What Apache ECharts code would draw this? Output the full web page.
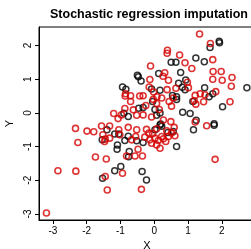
<!DOCTYPE html>
<html lang="en">
<head>
    <meta charset="UTF-8">
    <title>Stochastic regression imputation</title>
    <script src="https://cdn.jsdelivr.net/npm/echarts/dist/echarts.min.js"></script>
    <style>
        html, body { margin: 0; padding: 0; background: #fff; }
    </style>
</head>
<body>
    <div id="chart" style="width: 251px; height: 249px;"></div>

    <script>
        // observed cases (black)
        var observedX = [1.65, 1.92, 1.93, 1.23, 1.48, 0.50, 0.64, 0.78, -0.50, -0.47,
            -0.39, 0.13, 0.93, 0.91, 1.49, 2.74, 1.73, 1.62, 1.14, 2.02,
            0.84, 1.06, 1.24, 1.77, -0.94, -0.84, -0.08, 0.17, 0.54, 0.66,
            0.66, -0.05, -0.33, -0.46, 0.02, 0.07, 0.17, -0.77, 0.72, 0.83,
            -1.40, -1.54, -1.10, -1.09, -0.87, -0.74, -0.76, -0.99, -1.17, -1.53,
            -0.36, -0.23, 0.66, 1.16, 1.77, 0.22, 0.17, 0.40, -0.33, -0.52,
            -1.17, -1.05, -0.77, -0.90, 0.02, 0.56, 0.19];
        var observedY = [1.94, 2.13, 2.08, 1.63, 1.52, 1.50, 1.50, 1.20, 1.12, 1.07,
            0.95, 1.17, 0.98, 0.69, 0.75, 0.75, 0.57, 0.48, 0.34, 0.18,
            0.02, -0.02, -0.22, -0.32, 0.77, 0.70, 0.71, 0.67, 0.52, 0.48,
            0.40, 0.34, 0.16, 0.14, 0.10, -0.07, 0.00, -0.11, 0.88, 0.76,
            -0.50, -0.80, -1.08, -0.95, -0.82, -1.15, -1.30, -1.59, -1.72, -1.94,
            -1.74, -1.99, -1.00, -0.50, -0.37, -0.40, -0.36, -0.58, -0.88, -0.83,
            -0.63, -0.63, -0.69, -0.01, -0.50, -0.55, -0.33];

        // imputed cases (red)
        var imputedX = [1.34, 1.66, 0.39, 0.38, 0.75, 1.73, 0.91, 1.11, -0.11, 1.74,
            1.98, 2.30, 1.73, 2.01, 0.98, 1.01, 2.28, 1.82, 1.50, 1.36,
            1.21, 1.18, 1.23, 1.46, 2.24, 1.21, 1.55, 0.31, 0.26, 0.42,
            -0.13, -0.85, -0.86, -0.43, -0.33, -0.70, -0.15, -0.02, 0.08, 0.38,
            0.56, 0.51, -0.03, 0.22, 0.07, -0.25, 0.15, -0.87, -0.70, -1.20,
            -1.07, -0.52, -0.33, -0.08, -0.97, -0.62, -1.56, -1.32, 0.64, 0.44,
            -2.33, -1.99, -1.79, -2.26, -1.52, -1.47, -1.45, -1.32, -1.74, -1.42,
            -2.85, -2.32, -1.45, -1.39, -3.19, -1.02, -0.82, -0.48, -0.57, -0.35,
            -0.94, -0.38, 0.17, 0.59, 0.61, 0.22, 0.02, -0.13, -0.28, -0.05,
            -0.55, 0.12, 0.34, 0.51, -0.23, -0.77, 1.80, -1.05, -0.52, 0.07,
            0.37, -0.67, -0.16, 0.27, 0.42, 0.07, -0.08, 0.27, 0.49];
        var imputedY = [2.34, 2.06, 1.86, 1.77, 1.72, 1.58, 1.49, 1.32, 1.39, 1.23,
            1.23, 1.05, 1.00, 0.97, 0.91, 0.75, 0.79, 0.63, 0.54, 0.57,
            0.52, 0.36, 0.26, 0.33, 0.33, -0.27, -0.38, 1.19, 1.09, 0.97,
            0.99, 0.57, 0.50, 0.50, 0.51, 0.51, 0.77, 0.62, 0.48, 0.69,
            0.44, 0.20, 0.40, 0.44, 0.28, 0.22, 0.10, 0.13, 0.34, -0.02,
            -0.17, -0.07, -0.06, -0.12, -0.06, 0.09, -0.39, -0.39, 0.73, 0.34,
            -0.46, -0.54, -0.56, -0.88, -0.65, -0.85, -0.78, -0.75, -1.31, -1.37,
            -1.72, -1.73, -1.89, -2.29, -2.97, -0.65, -1.28, -1.08, -1.28, -1.28,
            -1.79, -2.27, -1.05, -0.43, -0.68, -0.70, -0.75, -0.80, -0.72, -0.62,
            -0.70, -0.82, -0.85, -0.60, -0.49, -0.43, -1.38, -0.50, -0.50, -0.47,
            -0.53, -0.80, -0.60, -0.77, -0.70, -0.95, -0.90, -0.21, -0.26];

        var xTicks = [-3, -2, -1, 0, 1, 2];
        var yTicks = [-3, -2, -1, 0, 1, 2];

        function pairs(xs, ys) {
            return xs.map(function (x, i) { return [x, ys[i]]; });
        }

        var chart = echarts.init(document.getElementById('chart'));
        var font = 'Liberation Sans';

        var options = {
            animation: false,
            title: {
                text: 'Stochastic regression imputation',
                left: 45,
                top: 3,
                textStyle: { fontFamily: font, fontWeight: 'bold', fontSize: 12.5, color: '#000' }
            },
            grid: {
                left: 39, right: -4, top: 27, bottom: 29,
                outerBoundsMode: 'none',
                show: true, borderColor: '#000', borderWidth: 1
            },
            xAxis: {
                type: 'value',
                min: -3.41, max: 2.98,
                name: 'X', nameLocation: 'middle', nameGap: 18,
                nameTextStyle: { fontFamily: font, fontSize: 11, color: '#000' },
                splitLine: { show: false },
                axisLine: { onZero: false, lineStyle: { color: '#000', width: 1 } },
                axisTick: { length: 4, lineStyle: { color: '#000' }, customValues: xTicks },
                axisLabel: { customValues: xTicks, margin: 6, fontFamily: font, fontSize: 10, color: '#000',
                    formatter: function (v) { return String(v); } }
            },
            yAxis: {
                type: 'value',
                min: -3.18, max: 2.55,
                name: 'Y', nameLocation: 'middle', nameGap: 23,
                nameTextStyle: { fontFamily: font, fontSize: 11, color: '#000' },
                splitLine: { show: false },
                axisLine: { onZero: false, lineStyle: { color: '#000', width: 1 } },
                axisTick: { length: 4, lineStyle: { color: '#000' }, customValues: yTicks },
                axisLabel: { customValues: yTicks, rotate: 90, margin: 6, fontFamily: font, fontSize: 10, color: '#000',
                    formatter: function (v) { return String(v); } }
            },
            series: [
                {
                    name: 'observed',
                    type: 'scatter',
                    data: pairs(observedX, observedY),
                    symbol: 'circle',
                    symbolSize: 6,
                    itemStyle: { color: 'rgba(0,0,0,0)', borderColor: '#000', borderWidth: 1.5 }
                },
                {
                    name: 'imputed',
                    type: 'scatter',
                    data: pairs(imputedX, imputedY),
                    symbol: 'circle',
                    symbolSize: 6,
                    itemStyle: { color: 'rgba(0,0,0,0)', borderColor: '#d40000', borderWidth: 1.6 }
                }
            ]
        };

        chart.setOption(options);
    </script>
</body>
</html>
